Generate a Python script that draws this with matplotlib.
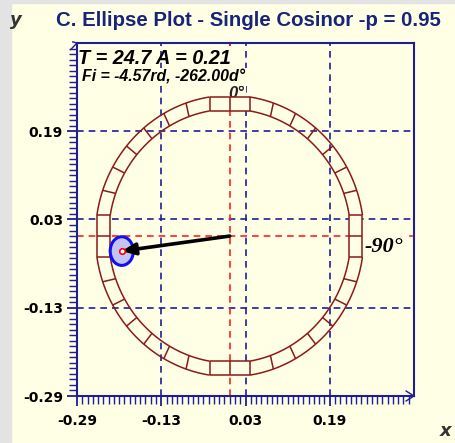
import numpy as np
import matplotlib
matplotlib.use("Agg")
import matplotlib.pyplot as plt
from matplotlib.patches import Ellipse, Polygon

# ---- data ----
title = "C. Ellipse Plot - Single Cosinor -p = 0.95"
period = 24.7
amplitude = 0.21
phase_rad = -4.57
phase_deg = -262.00
ellipse_w = 0.044
ellipse_h = 0.052
ring_inner = 0.23
ring_outer = 0.255
tick_vals = [-0.29, -0.13, 0.03, 0.19]
tick_labels = ["-0.29", "-0.13", "0.03", "0.19"]
axis_min, axis_max = -0.29, 0.35

BG = "#FFFFE6"
NAVY = "#1E1E96"
DARKRED = "#8B1A1A"
RED = "#FF2020"

fig = plt.figure(figsize=(4.56, 4.43), dpi=100, facecolor=BG)
fig.patches.append(plt.Rectangle((0, 0), 11/456, 1, transform=fig.transFigure, color="#E3E3E3", zorder=0))
fig.patches.append(plt.Rectangle((0, 1-3/443), 1, 3/443, transform=fig.transFigure, color="#E3E3E3", zorder=0))

ax = fig.add_axes([77/456, 47/443, 337/456, 353/443])
ax.set_facecolor(BG)
ax.set_xlim(axis_min, axis_max)
ax.set_ylim(axis_min, axis_max)

# grid
for v in tick_vals:
    ax.axvline(v, color=NAVY, lw=1.2, ls=(0, (4, 3)), zorder=1)
    ax.axhline(v, color=NAVY, lw=1.2, ls=(0, (4, 3)), zorder=1)


def rot(lx, ly, c):
    a = np.deg2rad(c)
    return lx*np.cos(a) + ly*np.sin(a), -lx*np.sin(a) + ly*np.cos(a)


def pt(r, ang):
    a = np.deg2rad(ang)
    return r*np.sin(a), r*np.cos(a)


h_in = 9.5
w = ring_inner*np.sin(np.deg2rad(h_in))
h_out = np.rad2deg(np.arcsin(w/ring_outer))
d_in = ring_inner*np.cos(np.deg2rad(h_in))
d_out = ring_outer*np.cos(np.deg2rad(h_out))

# red crosshair (stops at the inner ring on top and right side)
ax.plot([0, 0], [axis_min, d_in], color=RED, lw=1.2, ls=(0, (4, 3)), zorder=1)
ax.plot([axis_min, d_in], [0, 0], color=RED, lw=1.2, ls=(0, (4, 3)), zorder=1)
ax.plot([0, 0], [axis_max - 0.004, axis_max], color=RED, lw=1.5, zorder=1, clip_on=False)
ax.plot([axis_max - 0.008, axis_max - 0.003], [0, 0], color=RED, lw=1.2, zorder=1)

kw = dict(color=DARKRED, lw=1.1, zorder=2.1, solid_capstyle="butt")
for q in range(4):
    c = q*90
    corners = [rot(-w, d_in, c), rot(w, d_in, c), rot(w, d_out, c), rot(-w, d_out, c)]
    ax.add_patch(Polygon(corners, closed=True, fc=BG, ec="none", zorder=2))
    for d in (d_in, d_out):
        x1, y1 = rot(-w, d, c); x2, y2 = rot(w, d, c)
        ax.plot([x1, x2], [y1, y2], **kw)
    for s in (-1, 0, 1):
        x1, y1 = rot(s*w, d_in, c); x2, y2 = rot(s*w, d_out, c)
        ax.plot([x1, x2], [y1, y2], **kw)
    a_in = np.linspace(c+h_in, c+90-h_in, 60)
    a_out = np.linspace(c+h_out, c+90-h_out, 60)
    for r, aa in ((ring_inner, a_in), (ring_outer, a_out)):
        xs, ys = zip(*[pt(r, a) for a in aa])
        ax.plot(xs, ys, **kw)
    for k in range(1, 7):
        f = k/7
        ai = c+h_in + f*(90-2*h_in)
        ao = c+h_out + f*(90-2*h_out)
        (x1, y1), (x2, y2) = pt(ring_inner, ai), pt(ring_outer, ao)
        ax.plot([x1, x2], [y1, y2], **kw)

# vector and confidence ellipse
ex = -amplitude*np.sin(np.deg2rad(phase_deg)) + 0.003
ey = amplitude*np.cos(np.deg2rad(phase_deg)) + 0.002
ell = Ellipse((ex, ey), ellipse_w, ellipse_h, facecolor="#C4C4F4", edgecolor="#1010F0", lw=2.2, zorder=3)
ax.add_patch(ell)
ax.annotate("", xy=(ex, ey), xytext=(0, 0),
            arrowprops=dict(arrowstyle="-|>,head_length=0.8,head_width=0.35", color="black", lw=2.6,
                            shrinkA=0, shrinkB=0), zorder=4)
ax.plot([ex], [ey], marker="o", ms=4, mfc="white", mec="red", mew=1.2, zorder=5)

# labels
ax.text(0.012, ring_outer+0.004, "0°", ha="center", va="center", fontsize=12, fontstyle="italic",
        fontweight="bold", family="Liberation Sans", color="#222222", zorder=1.5,
        bbox=dict(boxstyle="square,pad=0.1", fc=BG, ec="none"))
ax.text(ring_outer+0.001, -0.019, "-90°", ha="left", va="center", fontsize=16, fontstyle="italic",
        fontweight="bold", family="Liberation Serif", zorder=5,
        bbox=dict(boxstyle="square,pad=0.05", fc=BG, ec="none"))
ax.text(0.002, 0.982, f"T = {period} A = {amplitude}", transform=ax.transAxes, ha="left", va="top",
        fontsize=14.3, fontstyle="italic", fontweight="bold", family="Liberation Sans", zorder=5)
ax.text(0.016, 0.925, f"Fi = {phase_rad}rd, {phase_deg:.2f}d°", transform=ax.transAxes, ha="left", va="top",
        fontsize=11.4, fontstyle="italic", fontweight="bold", family="Liberation Sans", zorder=5,
        bbox=dict(boxstyle="square,pad=0.1", fc=BG, ec="none"))

# axes / spines
for s in ax.spines.values():
    s.set_color(NAVY)
    s.set_linewidth(1.5)
ax.set_xticks(tick_vals)
ax.set_yticks(tick_vals)
ax.set_xticklabels(tick_labels, fontweight="bold", fontsize=10, family="DejaVu Sans")
ax.set_yticklabels(tick_labels, fontweight="bold", fontsize=10, family="DejaVu Sans")
ax.set_xticks(np.arange(-0.29, 0.35, 0.01), minor=True)
ax.set_yticks(np.arange(-0.29, 0.35, 0.01), minor=True)
ax.tick_params(which="major", direction="out", length=7, width=1.3, color=NAVY)
ax.tick_params(axis="x", which="major", pad=6)
ax.tick_params(axis="y", which="major", pad=3)
ax.tick_params(which="minor", direction="out", length=5.5, width=1.0, color=NAVY)

# axis arrows
ax.plot([-0.302, -0.29, -0.298], [0.338, 0.35, 0.352], color=NAVY, lw=1, clip_on=False)
ax.plot([0.335, 0.35, 0.335], [-0.281, -0.29, -0.299], color=NAVY, lw=1, clip_on=False)

fig.text(16/456, 1-20/443, "y", fontsize=13, fontweight="bold", fontstyle="italic", ha="center", va="center",
         color="#333333", family="DejaVu Sans")
fig.text(446/456, 1-431/443, "x", fontsize=13, fontweight="bold", fontstyle="italic", ha="center", va="center",
         color="#333333", family="DejaVu Sans")
fig.text(248.5/456, 1-21/443, title, fontsize=14.7, fontweight="bold", color="#18237A", ha="center", va="center",
         family="Liberation Sans")

fig.savefig("out.png", dpi=100, facecolor=BG)
